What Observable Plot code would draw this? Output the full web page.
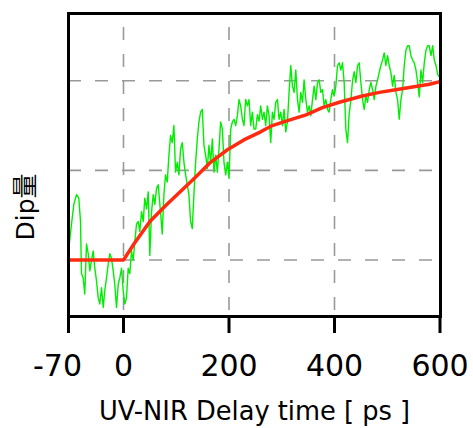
<!DOCTYPE html>
<html>
<head>
<meta charset="utf-8">
<script src="https://cdn.jsdelivr.net/npm/d3@7"></script>
<script src="https://cdn.jsdelivr.net/npm/@observablehq/plot@0.6"></script>
<style>
  html, body { margin: 0; padding: 0; background: #fff; }
  svg { display: block; }
</style>
</head>
<body>
<div id="chart"></div>
<script>
// Measured signal (green): delay time [ps] and Dip amount (arbitrary units)
const dataT = [
  -70, -66.2, -63.2, -59.8, -56.9, -54.7, -53.5, -51.3, -49.3, -47.1, -44.9, -42.9, -40.7, -38.6, -36.5, -34.4,
  -32.2, -30.2, -28, -25.8, -23.8, -21.6, -19.5, -17.4, -15.3, -13.1, -11.1, -8.9, -6.7, -4.7, -2.5, -0.4,
  2.5, 5.7, 8.9, 12, 15.2, 18.4, 21.5, 24.7, 27.9, 30.9, 34.2, 37.4, 40.4, 43.7, 46.9, 49.9,
  53.2, 56.4, 59.4, 62.7, 65.9, 68.9, 70.2, 73.4, 76.6, 79.7, 82.9, 86.1, 89.2, 92.4, 95.6, 98.7,
  101.9, 105.1, 108.2, 111.4, 114.6, 117.7, 120.9, 124, 127.2, 130.4, 133.5, 136.7, 139.9, 143, 146.2, 149.4,
  152.5, 155.7, 158.9, 162, 165.2, 168.4, 171.5, 174.7, 177.9, 181, 184.2, 187.4, 190.5, 193.7, 196.9, 200,
  203.2, 206.4, 209.5, 212.7, 215.9, 219, 222.1, 225.4, 228.4, 231.6, 234.9, 237.9, 241.1, 244.3, 247.4, 250.6,
  253.8, 256.9, 260.1, 263.3, 266.4, 269.6, 272.8, 275.9, 279.1, 282.3, 285.4, 288.6, 291.8, 294.9, 298.1, 301.3,
  304.4, 307.6, 310.8, 313.9, 317.1, 320.3, 323.4, 326.6, 329.8, 332.9, 336.1, 339.3, 342.4, 345.6, 348.8, 351.8,
  355.1, 358.3, 361.4, 364.6, 367.8, 370.9, 374.1, 377.3, 380.3, 383.5, 386.7, 389.8, 393, 396.2, 399.3, 402.5,
  405.7, 408.8, 412, 415.2, 418.3, 421.5, 424.7, 427.8, 431, 434.2, 437.3, 440.5, 443.7, 446.8, 450, 453.2,
  456.3, 459.5, 462.7, 465.8, 469, 472.2, 475.3, 478.5, 481.7, 484.7, 487.9, 491.1, 494.2, 497.4, 500.6, 503.7,
  506.9, 510.1, 513.2, 516.4, 519.6, 522.7, 525.9, 529.1, 532.2, 535.4, 538.6, 541.7, 544.9, 548.1, 551.2, 554.4,
  557.6, 560.7, 563.9, 567.1, 570.2, 573.4, 576.6, 579.7, 582.9, 586.1, 589.2, 592.4, 595.6, 597.5
];
const dataDip = [
  0.10, 0.40, 0.62, 0.73, 0.69, 0.43, -0.15, -0.20, -0.38, 0.18, 0.07, -0.12, 0.00, 0.10, -0.09, -0.23,
  -0.42, -0.49, -0.31, -0.53, -0.34, -0.20, -0.05, 0.07, 0.02, -0.12, -0.27, -0.53, -0.27, -0.20, -0.09, -0.34,
  -0.49, -0.42, -0.09, -0.15, 0.10, 0.00, 0.21, 0.40, 0.43, 0.32, 0.54, 0.43, 0.69, 0.57, 0.76, 0.05,
  0.54, 0.73, 0.62, 0.80, 0.84, 0.62, 0.54, 0.29, 0.73, 0.95, 0.87, 1.17, 1.39, 1.31, 1.50, 0.98,
  1.09, 0.95, 1.24, 1.31, 1.09, 0.95, 0.84, 0.73, 0.43, 0.35, 0.73, 1.09, 1.35, 1.54, 1.65, 1.68,
  1.28, 1.17, 1.02, 1.28, 1.09, 1.35, 0.98, 1.17, 0.98, 1.24, 1.54, 1.46, 1.09, 0.95, 1.09, 0.91,
  1.46, 1.54, 1.57, 1.50, 1.61, 1.79, 1.72, 1.57, 1.50, 1.79, 1.72, 1.79, 1.50, 1.65, 1.46, 1.46,
  1.62, 1.55, 1.72, 1.57, 1.65, 1.50, 1.72, 1.61, 1.31, 1.65, 1.57, 1.76, 1.79, 1.57, 1.65, 1.50,
  1.68, 1.43, 1.54, 1.87, 2.17, 1.94, 1.87, 2.12, 1.79, 1.65, 1.87, 1.76, 2.01, 1.79, 1.65, 1.72,
  1.61, 1.79, 1.94, 1.79, 1.98, 2.01, 1.87, 1.90, 1.72, 1.79, 1.68, 1.65, 1.79, 1.90, 1.83, 1.94,
  2.17, 2.20, 2.12, 2.20, 1.98, 1.46, 1.31, 1.63, 1.78, 2.00, 2.10, 1.98, 2.17, 2.20, 1.98, 1.79,
  1.68, 1.83, 1.76, 1.90, 1.98, 1.90, 1.79, 1.94, 2.01, 2.09, 2.17, 2.23, 2.31, 2.17, 2.28, 2.17,
  2.09, 1.94, 2.06, 1.87, 1.79, 1.57, 1.79, 1.90, 2.17, 2.34, 2.39, 2.39, 2.28, 2.23, 2.20, 2.12,
  1.98, 1.82, 2.12, 1.98, 2.20, 2.34, 2.39, 2.39, 2.28, 2.39, 2.23, 2.17, 2.07, 2.05
];

// Fit curve (red)
const fitT = [-70, 0, 21, 50, 82, 102, 134, 165, 197, 228, 260, 282, 314, 346, 377, 409, 453, 485, 516, 548, 580, 600];
const fitDip = [0, 0, 0.19, 0.43, 0.62, 0.73, 0.91, 1.09, 1.23, 1.34, 1.43, 1.50, 1.56, 1.62, 1.70, 1.76, 1.83, 1.87, 1.90, 1.93, 1.96, 1.99];

// Axis ticks and labels
const xTicksLeft = [-70];
const xTicks = [-70, 0, 200, 400, 600];
const xGrid = [0, 200, 400];
const yGrid = [0, 1, 2];
const xLabel = "UV-NIR Delay time [ ps ]";
const yLabel = "Dip量";

const measured = dataT.map((t, i) => ({t, v: dataDip[i]}));
const fit = fitT.map((t, i) => ({t, v: fitDip[i]}));

const FONT = "'DejaVu Sans', 'Noto Sans CJK JP', sans-serif";
const tickOpts = {tickSize: 17, tickPadding: 21, strokeWidth: 3, fontSize: 30, label: null, fill: "#000"};

const chart = Plot.plot({
  width: 473,
  height: 428,
  marginLeft: 68,
  marginRight: 33,
  marginTop: 13,
  marginBottom: 112,
  style: {fontFamily: FONT, color: "#000", background: "#fff"},
  x: {type: "linear", domain: [-70, 0, 600], range: [68, 123, 439.5]},
  y: {domain: [-0.63, 2.75], axis: null},
  marks: [
    Plot.gridX(xGrid, {stroke: "#999", strokeOpacity: 1, strokeWidth: 1.6, strokeDasharray: "13,14", strokeDashoffset: 13}),
    Plot.gridY(yGrid, {stroke: "#999", strokeOpacity: 1, strokeWidth: 1.6, strokeDasharray: "13,14"}),
    Plot.line(measured, {x: "t", y: "v", stroke: "#00ee00", strokeWidth: 1.4}),
    Plot.line(fit, {x: "t", y: "v", stroke: "#ff2a10", strokeWidth: 3.5}),
    Plot.frame({stroke: "#000", strokeWidth: 3}),
    // tick marks for all, labels for all but -70 (which sits slightly left of its tick)
    Plot.axisX({ticks: xTicks, ...tickOpts, stroke: "#000", tickFormat: d => (xTicksLeft.includes(d) ? "" : String(d))}),
    Plot.axisX({ticks: xTicksLeft, ...tickOpts, stroke: "none", dx: -11, tickFormat: d => String(d)}),
    Plot.text([xLabel], {frameAnchor: "bottom", text: d => d, dy: 95, fontSize: 25.7, lineAnchor: "middle", textAnchor: "middle", fill: "#000"}),
    Plot.text([yLabel], {frameAnchor: "left", text: d => d, rotate: -90, dx: -43, dy: 42, fontSize: 25, lineAnchor: "middle", textAnchor: "middle", fill: "#000"})
  ]
});
document.getElementById("chart").appendChild(chart);
</script>
</body>
</html>
